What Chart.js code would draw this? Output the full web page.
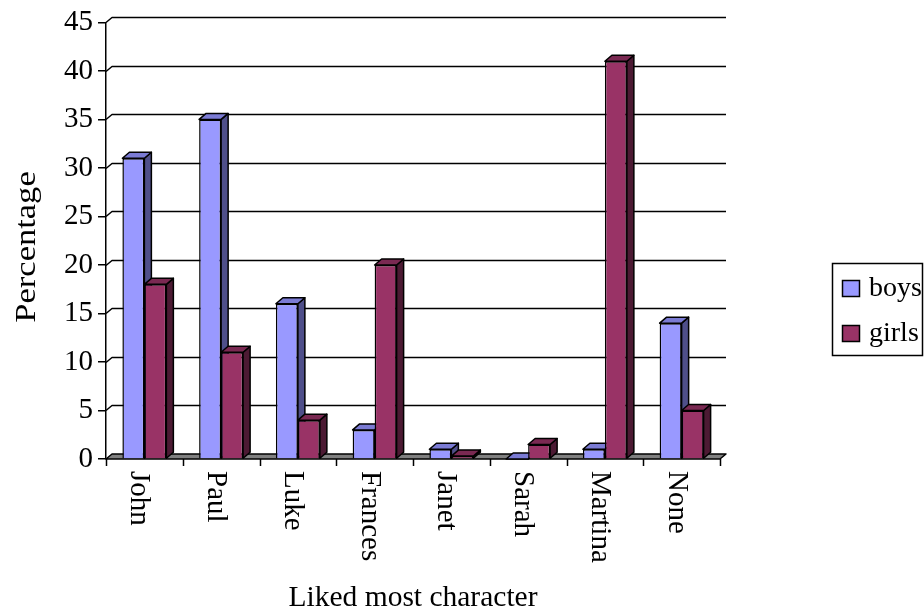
<!DOCTYPE html>
<html>
<head>
<meta charset="utf-8">
<title>Liked most character</title>
<script src="https://cdn.jsdelivr.net/npm/chart.js@4.4.0/dist/chart.umd.min.js"></script>
<style>
  html, body { margin: 0; padding: 0; background: #fff; }
  canvas { display: block; }
</style>
</head>
<body>
<canvas id="likedChart" width="924" height="611"></canvas>
<script>
const categories = ['John', 'Paul', 'Luke', 'Frances', 'Janet', 'Sarah', 'Martina', 'None'];
const boysValues = [31, 35, 16, 3, 1, 0, 1, 14];
const girlsValues = [18, 11, 4, 20, 0.3, 1.5, 41, 5];
const seriesNames = ['boys', 'girls'];
const yMax = 45;
const yStep = 5;
const xTitle = 'Liked most character';
const yTitle = 'Percentage';

const FONT = '"Liberation Serif", "Times New Roman", serif';
// back wall / floor offset, and depth of the bars
const WALL_DX = 6, WALL_DY = -5;
const BAR_DX = 7, BAR_DY = -6;

const palette = [
  { front: '#9999ff', top: '#7b7bd4', side: '#4f4f8a' },
  { front: '#993366', top: '#7a2952', side: '#4c1a33' }
];

const likedChart = {
  init: function() {
    this.ctx = document.getElementById('likedChart').getContext('2d');

    this.chart = new Chart(this.ctx, {
      type: 'bar',
      data: {
        labels: categories,
        datasets: [boysValues, girlsValues].map((values, i) => ({
          label: seriesNames[i],
          data: values,
          backgroundColor: palette[i].front,
          borderColor: '#000',
          borderWidth: 1.5,
          categoryPercentage: 0.573,
          barPercentage: 1
        }))
      },
      options: {
        responsive: false,
        animation: false,
        events: [],
        devicePixelRatio: 1,
        layout: { padding: { top: 18, right: 204, bottom: 0, left: 0 } },
        plugins: {
          legend: { display: false },
          tooltip: { enabled: false }
        },
        scales: {
          x: {
            ticks: { display: false },
            grid: { display: false },
            border: { display: false },
            afterFit: (scale) => { scale.height = 152; }
          },
          y: {
            min: 0,
            max: yMax,
            ticks: {
              stepSize: yStep,
              color: '#000',
              padding: 5,
              font: { family: FONT, size: 29 }
            },
            grid: {
              drawOnChartArea: false,
              drawTicks: true,
              tickLength: 8,
              color: '#000',
              lineWidth: 1.5
            },
            border: { display: true, color: '#000', width: 1.5 },
            afterFit: (scale) => { scale.width = 106; }
          }
        }
      },
      plugins: [
        { id: 'backWall', beforeDatasetsDraw: (chart) => this.drawBackdrop(chart) },
        { id: 'decor', afterDraw: (chart) => this.drawDecor(chart) }
      ]
    });
  },

  poly: function(ctx, pts, fill) {
    ctx.beginPath();
    ctx.moveTo(pts[0][0], pts[0][1]);
    for (let i = 1; i < pts.length; i++) ctx.lineTo(pts[i][0], pts[i][1]);
    ctx.closePath();
    ctx.fillStyle = fill;
    ctx.fill();
    ctx.stroke();
  },

  drawBackdrop: function(chart) {
    const ctx = chart.ctx;
    const area = chart.chartArea;
    const y = chart.scales.y;

    ctx.save();
    ctx.strokeStyle = '#000';
    ctx.lineWidth = 1.5;
    ctx.lineJoin = 'round';

    // floor
    this.poly(ctx, [
      [area.left, area.bottom], [area.right, area.bottom],
      [area.right + WALL_DX, area.bottom + WALL_DY], [area.left + WALL_DX, area.bottom + WALL_DY]
    ], '#808080');

    // gridlines on the back wall
    ctx.beginPath();
    for (let v = yStep; v <= yMax; v += yStep) {
      const py = Math.round(y.getPixelForValue(v)) + 0.5;
      ctx.moveTo(area.left, py);
      ctx.lineTo(area.left + WALL_DX, py + WALL_DY);
      ctx.lineTo(area.right + WALL_DX, py + WALL_DY);
    }
    ctx.stroke();

    // top and side faces of the bars
    chart.data.datasets.forEach((ds, di) => {
      const colors = palette[di];
      chart.getDatasetMeta(di).data.forEach((bar) => {
        const p = bar.getProps(['x', 'y', 'base', 'width'], true);
        const l = p.x - p.width / 2, r = p.x + p.width / 2;
        this.poly(ctx, [
          [r, p.y], [r + BAR_DX, p.y + BAR_DY], [r + BAR_DX, p.base + BAR_DY], [r, p.base]
        ], colors.side);
        this.poly(ctx, [
          [l, p.y], [l + BAR_DX, p.y + BAR_DY], [r + BAR_DX, p.y + BAR_DY], [r, p.y]
        ], colors.top);
      });
    });
    ctx.restore();
  },

  drawDecor: function(chart) {
    const ctx = chart.ctx;
    const area = chart.chartArea;
    const x = chart.scales.x;
    const half = (x.getPixelForValue(1) - x.getPixelForValue(0)) / 2;

    ctx.save();
    ctx.strokeStyle = '#000';
    ctx.lineWidth = 1.5;

    // category tick marks
    ctx.beginPath();
    for (let i = 0; i <= categories.length; i++) {
      const px = Math.round(x.getPixelForValue(i) - half) + 0.5;
      ctx.moveTo(px, area.bottom);
      ctx.lineTo(px, area.bottom + 7);
    }
    ctx.stroke();

    // category labels, reading top to bottom
    ctx.fillStyle = '#000';
    ctx.font = '29px ' + FONT;
    ctx.textAlign = 'left';
    ctx.textBaseline = 'alphabetic';
    categories.forEach((name, i) => {
      ctx.save();
      ctx.translate(x.getPixelForValue(i), area.bottom + 12);
      ctx.rotate(Math.PI / 2);
      ctx.fillText(name, 0, 13);
      ctx.restore();
    });

    // axis titles
    ctx.font = '29.5px ' + FONT;
    ctx.textAlign = 'center';
    ctx.textBaseline = 'middle';
    ctx.fillText(xTitle, (area.left + area.right) / 2, 598);
    ctx.save();
    ctx.translate(27, 247);
    ctx.rotate(-Math.PI / 2);
    ctx.scale(1.17, 1); // the source picture is a little taller than wide
    ctx.fillText(yTitle, 0, 0);
    ctx.restore();

    // legend
    ctx.strokeRect(832.5, 263.5, 90, 92);
    ctx.font = '28px ' + FONT;
    ctx.textAlign = 'left';
    seriesNames.forEach((name, i) => {
      const cy = 289 + i * 45;
      ctx.fillStyle = palette[i].front;
      ctx.fillRect(842.5, cy - 8.5, 17, 16);
      ctx.strokeRect(842.5, cy - 8.5, 17, 16);
      ctx.fillStyle = '#000';
      ctx.fillText(name, 869, cy);
    });
    ctx.restore();
  }
};

document.addEventListener('DOMContentLoaded', () => likedChart.init());
</script>
</body>
</html>
